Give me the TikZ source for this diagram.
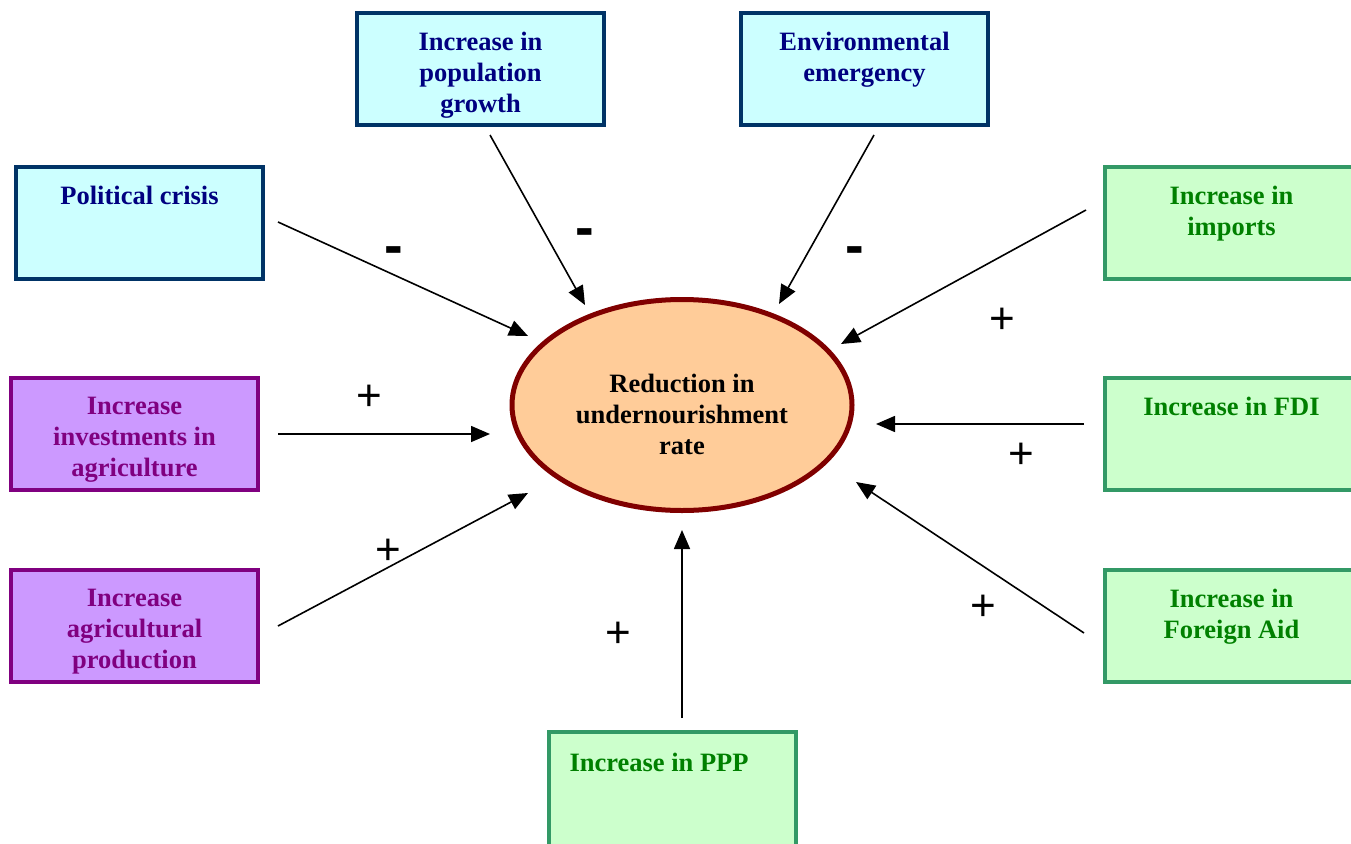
\documentclass[tikz,border=0pt]{standalone}
\usepackage{fontspec}
\setmainfont{Liberation Serif}
\newfontfamily\signfont{Liberation Sans}
\usetikzlibrary{shapes.geometric,arrows.meta,calc}
\definecolor{bluefill}{HTML}{CCFFFF}
\definecolor{blueline}{HTML}{003366}
\definecolor{bluetext}{HTML}{000080}
\definecolor{purpfill}{HTML}{CC99FF}
\definecolor{purpline}{HTML}{800080}
\definecolor{greenfill}{HTML}{CCFFCC}
\definecolor{greenline}{HTML}{339966}
\definecolor{greentext}{HTML}{008000}
\definecolor{ovalfill}{HTML}{FFCC99}
\definecolor{ovalline}{HTML}{800000}
\newcommand{\boxtext}[1]{\parbox[c][74pt][t]{240pt}{\centering #1}}
\tikzset{
  factor/.style={rectangle, line width=4pt, minimum width=247pt, minimum height=112pt,
    inner sep=0pt, font=\fontsize{26.5}{31}\selectfont\bfseries},
  bluebox/.style={factor, draw=blueline, fill=bluefill, text=bluetext},
  purpbox/.style={factor, draw=purpline, fill=purpfill, text=purpline},
  greenbox/.style={factor, draw=greenline, fill=greenfill, text=greentext},
  rightbox/.style={greenbox, minimum width=253pt},
  arr/.style={line width=1.6pt, -{Triangle[length=19pt,width=16pt]}},
  signp/.style={font=\signfont\fontsize{44}{44}\selectfont, inner sep=0pt},
  signm/.style={font=\signfont\bfseries\fontsize{56}{56}\selectfont, inner sep=0pt}
}
\begin{document}
\begin{tikzpicture}[x=1pt,y=-1pt]
\useasboundingbox (0,0) rectangle (1351,843);
\clip (0,0) rectangle (1351,843);
% centre
\node[ellipse, draw=ovalline, fill=ovalfill, line width=5pt, minimum width=340pt,
  minimum height=211pt, inner sep=0pt] (c) at (682,405) {};
\node[align=center, font=\fontsize{26.5}{31}\selectfont\bfseries] (ctext) at (682,414)
  {Reduction in\\undernourishment\\rate};
% boxes
\node[bluebox] (pol) at (139.5,223) {\boxtext{Political crisis}};
\node[bluebox] (pop) at (480.5,69) {\boxtext{Increase in\\population\\growth}};
\node[bluebox] (env) at (864.5,69) {\boxtext{Environmental\\emergency}};
\node[rightbox] (imp) at (1231.5,223) {\boxtext{Increase in\\imports}};
\node[purpbox] (inv) at (134.5,434) {\boxtext{Increase\\investments in\\agriculture}};
\node[rightbox] (fdi) at (1231.5,434) {\boxtext{Increase in FDI}};
\node[purpbox] (agr) at (134.5,626) {\boxtext{Increase\\agricultural\\production}};
\node[rightbox] (aid) at (1231.5,626) {\boxtext{Increase in\\Foreign Aid}};
\node[greenbox, minimum height=120pt] (ppp) at (672.5,792) {\parbox[c][78pt][t]{240pt}{\raggedright\hspace*{17pt}Increase in PPP}};
% arrows
\draw[arr] ($(pol.east)+(13,-1)$) -- ($(c)+(-154,-69)$);
\draw[arr] ($(pop.south)+(9.5,8)$) -- ($(c)+(-97,-100)$);
\draw[arr] ($(env.south)+(9.5,8)$) -- ($(c)+(97,-101)$);
\draw[arr] ($(imp.west)+(-17,-13)$) -- ($(c)+(159,-61)$);
\draw[arr] ($(inv.east)+(18,0)$) -- ($(c)+(-192,29)$);
\draw[arr] ($(fdi.west)+(-19,-10)$) -- ($(c)+(194,19)$);
\draw[arr] ($(agr.east)+(18,0)$) -- ($(c)+(-154,88)$);
\draw[arr] ($(aid.west)+(-19,7)$) -- ($(c)+(174,77)$);
\draw[arr] ($(ppp.north)+(9.5,-12)$) -- ($(c)+(0,125)$);
% signs
\node[signm] (m1) at (394,256) {-};
\node[signm] (m2) at (585,238) {-};
\node[signm] (m3) at (855,256) {-};
\node[signp] (p1) at (369,398) {+};
\node[signp] (p2) at (388,552) {+};
\node[signp] (p3) at (618,635) {+};
\node[signp] (p4) at (1002,321) {+};
\node[signp] (p5) at (1021,456) {+};
\node[signp] (p6) at (983,608) {+};
\end{tikzpicture}
\end{document}
